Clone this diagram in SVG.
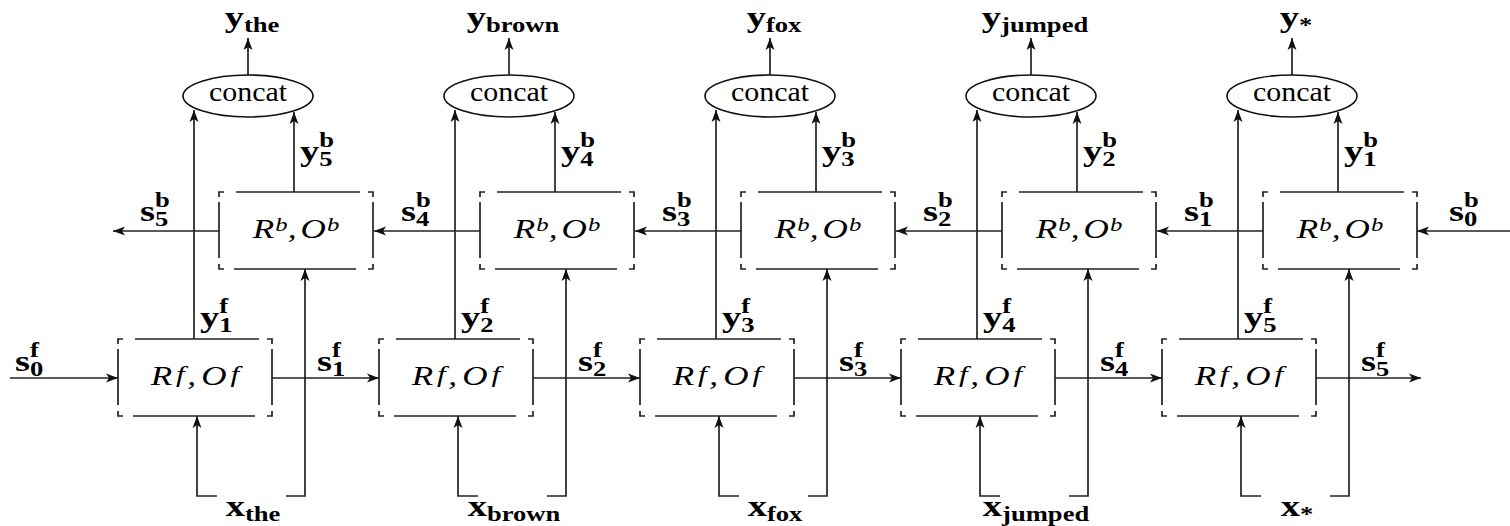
<svg xmlns="http://www.w3.org/2000/svg" xmlns:xlink="http://www.w3.org/1999/xlink" width="1510" height="526" viewBox="0 0 1510 526">
  <style>
    .ln { fill: none; stroke: #222; stroke-width: 1.7; }
    .wire { fill: none; stroke: #222; stroke-width: 1.7; marker-end: url(#ah); }
    .plain { fill: none; stroke: #222; stroke-width: 1.7; }
    .oval { fill: #fff; stroke: #111; stroke-width: 1.6; }
    .lab { font-family: "Liberation Serif", "Times New Roman", serif; font-weight: bold; font-size: 29px; fill: #000; }
    .sm { font-size: 20px; }
    .cc { font-family: "Liberation Serif", "Times New Roman", serif; font-size: 28px; fill: #000; text-anchor: middle; }
    .cell { font-family: "Liberation Serif", "Times New Roman", serif; font-style: italic; font-size: 27px; fill: #000; text-anchor: middle; }
    .sp { font-size: 19px; }
    .sf { font-size: 24px; }
  </style>
  <defs>
    <marker id="ah" markerUnits="userSpaceOnUse" markerWidth="14" markerHeight="10" refX="12" refY="5" orient="auto">
      <path d="M0,0.5 L12,5 L0,9.5 L3,5 Z" fill="#111"/>
    </marker>
    <!-- cell outline: corner ticks plus broken sides -->
    <path id="frame" class="ln" d="M0,5V0H5 M149,0H154V5 M154,72V77H149 M5,77H0V72 M17,0H141 M15,77H137 M0,10V66 M154,10V66"/>
  </defs>

  <!-- connectors -->
  <g id="connectors">
    <path class="wire" d="M248,75V38"/>
    <path class="wire" d="M194,339V110"/>
    <path class="wire" d="M294,192V112"/>
    <path class="wire" d="M219,231H113"/>
    <path class="wire" d="M272,378H379"/>
    <path class="wire" d="M217,496H197V416"/>
    <path class="wire" d="M286,496H305V269"/>

    <path class="wire" d="M509,75V38"/>
    <path class="wire" d="M455,339V110"/>
    <path class="wire" d="M555,192V112"/>
    <path class="wire" d="M480,231H374"/>
    <path class="wire" d="M533,378H640"/>
    <path class="wire" d="M478,496H458V416"/>
    <path class="wire" d="M547,496H566V269"/>

    <path class="wire" d="M770,75V38"/>
    <path class="wire" d="M716,339V110"/>
    <path class="wire" d="M816,192V112"/>
    <path class="wire" d="M741,231H635"/>
    <path class="wire" d="M794,378H901"/>
    <path class="wire" d="M739,496H719V416"/>
    <path class="wire" d="M808,496H827V269"/>

    <path class="wire" d="M1031,75V38"/>
    <path class="wire" d="M977,339V110"/>
    <path class="wire" d="M1077,192V112"/>
    <path class="wire" d="M1002,231H896"/>
    <path class="wire" d="M1055,378H1162"/>
    <path class="wire" d="M1000,496H980V416"/>
    <path class="wire" d="M1069,496H1088V269"/>

    <path class="wire" d="M1292,75V38"/>
    <path class="wire" d="M1238,339V110"/>
    <path class="wire" d="M1338,192V112"/>
    <path class="wire" d="M1263,231H1157"/>
    <path class="wire" d="M1316,378H1421"/>
    <path class="wire" d="M1261,496H1241V416"/>
    <path class="wire" d="M1330,496H1349V269"/>

    <path class="wire" d="M1510,231H1417"/>
    <path class="wire" d="M10,378H118"/>

    <!-- state labels, backward chain -->
    <text class="lab" transform="translate(140,221) scale(1.33,1)">s<tspan class="sm" dy="-14">b</tspan><tspan class="sm" x="11.3" dy="19">5</tspan></text>
    <text class="lab" transform="translate(401,221) scale(1.33,1)">s<tspan class="sm" dy="-14">b</tspan><tspan class="sm" x="11.3" dy="19">4</tspan></text>
    <text class="lab" transform="translate(662,221) scale(1.33,1)">s<tspan class="sm" dy="-14">b</tspan><tspan class="sm" x="11.3" dy="19">3</tspan></text>
    <text class="lab" transform="translate(923,221) scale(1.33,1)">s<tspan class="sm" dy="-14">b</tspan><tspan class="sm" x="11.3" dy="19">2</tspan></text>
    <text class="lab" transform="translate(1184,221) scale(1.33,1)">s<tspan class="sm" dy="-14">b</tspan><tspan class="sm" x="11.3" dy="19">1</tspan></text>
    <text class="lab" transform="translate(1449,221) scale(1.33,1)">s<tspan class="sm" dy="-14">b</tspan><tspan class="sm" x="11.3" dy="19">0</tspan></text>

    <!-- state labels, forward chain -->
    <text class="lab" transform="translate(15,371) scale(1.33,1)">s<tspan class="sm" dy="-14">f</tspan><tspan class="sm" x="11.3" dy="19">0</tspan></text>
    <text class="lab" transform="translate(317,371) scale(1.33,1)">s<tspan class="sm" dy="-14">f</tspan><tspan class="sm" x="11.3" dy="19">1</tspan></text>
    <text class="lab" transform="translate(578,371) scale(1.33,1)">s<tspan class="sm" dy="-14">f</tspan><tspan class="sm" x="11.3" dy="19">2</tspan></text>
    <text class="lab" transform="translate(839,371) scale(1.33,1)">s<tspan class="sm" dy="-14">f</tspan><tspan class="sm" x="11.3" dy="19">3</tspan></text>
    <text class="lab" transform="translate(1100,371) scale(1.33,1)">s<tspan class="sm" dy="-14">f</tspan><tspan class="sm" x="11.3" dy="19">4</tspan></text>
    <text class="lab" transform="translate(1361,371) scale(1.33,1)">s<tspan class="sm" dy="-14">f</tspan><tspan class="sm" x="11.3" dy="19">5</tspan></text>

    <!-- per-direction outputs -->
    <text class="lab" transform="translate(200,327) scale(1.33,1)">y<tspan class="sm" dy="-14">f</tspan><tspan class="sm" x="14.5" dy="19">1</tspan></text>
    <text class="lab" transform="translate(461,327) scale(1.33,1)">y<tspan class="sm" dy="-14">f</tspan><tspan class="sm" x="14.5" dy="19">2</tspan></text>
    <text class="lab" transform="translate(722,327) scale(1.33,1)">y<tspan class="sm" dy="-14">f</tspan><tspan class="sm" x="14.5" dy="19">3</tspan></text>
    <text class="lab" transform="translate(983,327) scale(1.33,1)">y<tspan class="sm" dy="-14">f</tspan><tspan class="sm" x="14.5" dy="19">4</tspan></text>
    <text class="lab" transform="translate(1244,327) scale(1.33,1)">y<tspan class="sm" dy="-14">f</tspan><tspan class="sm" x="14.5" dy="19">5</tspan></text>

    <text class="lab" transform="translate(300,161) scale(1.33,1)">y<tspan class="sm" dy="-14">b</tspan><tspan class="sm" x="14.5" dy="19">5</tspan></text>
    <text class="lab" transform="translate(561,161) scale(1.33,1)">y<tspan class="sm" dy="-14">b</tspan><tspan class="sm" x="14.5" dy="19">4</tspan></text>
    <text class="lab" transform="translate(822,161) scale(1.33,1)">y<tspan class="sm" dy="-14">b</tspan><tspan class="sm" x="14.5" dy="19">3</tspan></text>
    <text class="lab" transform="translate(1083,161) scale(1.33,1)">y<tspan class="sm" dy="-14">b</tspan><tspan class="sm" x="14.5" dy="19">2</tspan></text>
    <text class="lab" transform="translate(1344,161) scale(1.33,1)">y<tspan class="sm" dy="-14">b</tspan><tspan class="sm" x="14.5" dy="19">1</tspan></text>

    <!-- word outputs -->
    <text class="lab" text-anchor="middle" transform="translate(252,27) scale(1.33,1)">y<tspan class="sm" dy="5">the</tspan></text>
    <text class="lab" text-anchor="middle" transform="translate(513,27) scale(1.33,1)">y<tspan class="sm" dy="5">brown</tspan></text>
    <text class="lab" text-anchor="middle" transform="translate(774,27) scale(1.33,1)">y<tspan class="sm" dy="5">fox</tspan></text>
    <text class="lab" text-anchor="middle" transform="translate(1035,27) scale(1.33,1)">y<tspan class="sm" dy="5">jumped</tspan></text>
    <text class="lab" text-anchor="middle" transform="translate(1296,27) scale(1.33,1)">y<tspan class="sm" dy="5">*</tspan></text>

    <!-- word inputs -->
    <text class="lab" text-anchor="middle" transform="translate(253,516) scale(1.33,1)">x<tspan class="sm" dy="5">the</tspan></text>
    <text class="lab" text-anchor="middle" transform="translate(514,516) scale(1.33,1)">x<tspan class="sm" dy="5">brown</tspan></text>
    <text class="lab" text-anchor="middle" transform="translate(775,516) scale(1.33,1)">x<tspan class="sm" dy="5">fox</tspan></text>
    <text class="lab" text-anchor="middle" transform="translate(1036,516) scale(1.33,1)">x<tspan class="sm" dy="5">jumped</tspan></text>
    <text class="lab" text-anchor="middle" transform="translate(1297,516) scale(1.33,1)">x<tspan class="sm" dy="5">*</tspan></text>
  </g>

  <!-- concat nodes -->
  <g id="concat-1"><ellipse class="oval" cx="248" cy="96" rx="65" ry="21"/><text class="cc" transform="translate(248,101) scale(1.07,1)">concat</text></g>
  <g id="concat-2"><ellipse class="oval" cx="509" cy="96" rx="65" ry="21"/><text class="cc" transform="translate(509,101) scale(1.07,1)">concat</text></g>
  <g id="concat-3"><ellipse class="oval" cx="770" cy="96" rx="65" ry="21"/><text class="cc" transform="translate(770,101) scale(1.07,1)">concat</text></g>
  <g id="concat-4"><ellipse class="oval" cx="1031" cy="96" rx="65" ry="21"/><text class="cc" transform="translate(1031,101) scale(1.07,1)">concat</text></g>
  <g id="concat-5"><ellipse class="oval" cx="1292" cy="96" rx="65" ry="21"/><text class="cc" transform="translate(1292,101) scale(1.07,1)">concat</text></g>

  <!-- backward cells -->
  <g id="bwd-1"><use href="#frame" x="219" y="192"/><text class="cell" transform="translate(296,238) scale(1.3,1)">R<tspan class="sp" dx="1" dy="-7">b</tspan><tspan dy="7">,</tspan><tspan dx="3">O</tspan><tspan class="sp" dx="1" dy="-7">b</tspan></text></g>
  <g id="bwd-2"><use href="#frame" x="480" y="192"/><text class="cell" transform="translate(557,238) scale(1.3,1)">R<tspan class="sp" dx="1" dy="-7">b</tspan><tspan dy="7">,</tspan><tspan dx="3">O</tspan><tspan class="sp" dx="1" dy="-7">b</tspan></text></g>
  <g id="bwd-3"><use href="#frame" x="741" y="192"/><text class="cell" transform="translate(818,238) scale(1.3,1)">R<tspan class="sp" dx="1" dy="-7">b</tspan><tspan dy="7">,</tspan><tspan dx="3">O</tspan><tspan class="sp" dx="1" dy="-7">b</tspan></text></g>
  <g id="bwd-4"><use href="#frame" x="1002" y="192"/><text class="cell" transform="translate(1079,238) scale(1.3,1)">R<tspan class="sp" dx="1" dy="-7">b</tspan><tspan dy="7">,</tspan><tspan dx="3">O</tspan><tspan class="sp" dx="1" dy="-7">b</tspan></text></g>
  <g id="bwd-5"><use href="#frame" x="1263" y="192"/><text class="cell" transform="translate(1340,238) scale(1.3,1)">R<tspan class="sp" dx="1" dy="-7">b</tspan><tspan dy="7">,</tspan><tspan dx="3">O</tspan><tspan class="sp" dx="1" dy="-7">b</tspan></text></g>

  <!-- forward cells -->
  <g id="fwd-1"><use href="#frame" x="118" y="339"/><text class="cell" transform="translate(195,385) scale(1.3,1)">R<tspan class="sf" dx="3" dy="-3">f</tspan><tspan dx="2" dy="3">,</tspan><tspan dx="4">O</tspan><tspan class="sf" dx="3" dy="-3">f</tspan></text></g>
  <g id="fwd-2"><use href="#frame" x="379" y="339"/><text class="cell" transform="translate(456,385) scale(1.3,1)">R<tspan class="sf" dx="3" dy="-3">f</tspan><tspan dx="2" dy="3">,</tspan><tspan dx="4">O</tspan><tspan class="sf" dx="3" dy="-3">f</tspan></text></g>
  <g id="fwd-3"><use href="#frame" x="640" y="339"/><text class="cell" transform="translate(717,385) scale(1.3,1)">R<tspan class="sf" dx="3" dy="-3">f</tspan><tspan dx="2" dy="3">,</tspan><tspan dx="4">O</tspan><tspan class="sf" dx="3" dy="-3">f</tspan></text></g>
  <g id="fwd-4"><use href="#frame" x="901" y="339"/><text class="cell" transform="translate(978,385) scale(1.3,1)">R<tspan class="sf" dx="3" dy="-3">f</tspan><tspan dx="2" dy="3">,</tspan><tspan dx="4">O</tspan><tspan class="sf" dx="3" dy="-3">f</tspan></text></g>
  <g id="fwd-5"><use href="#frame" x="1162" y="339"/><text class="cell" transform="translate(1239,385) scale(1.3,1)">R<tspan class="sf" dx="3" dy="-3">f</tspan><tspan dx="2" dy="3">,</tspan><tspan dx="4">O</tspan><tspan class="sf" dx="3" dy="-3">f</tspan></text></g>
</svg>
